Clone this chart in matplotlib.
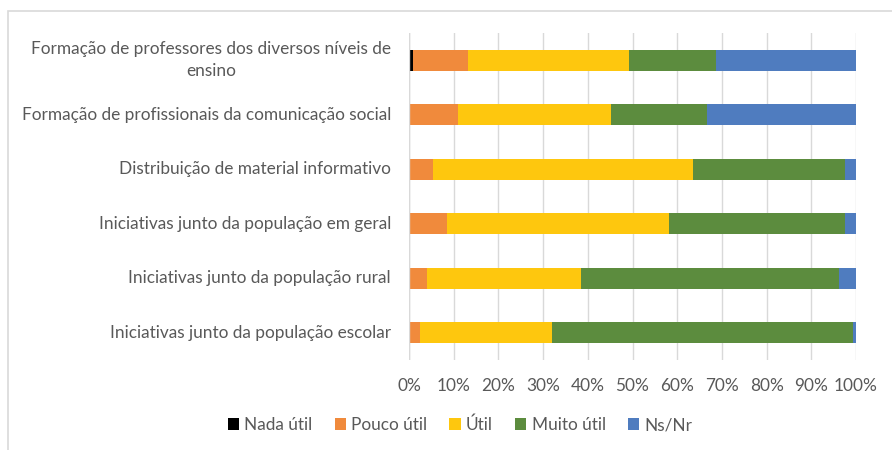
import matplotlib
matplotlib.use("Agg")
import matplotlib.pyplot as plt
import matplotlib.transforms as mtransforms
from matplotlib.patches import Rectangle
from matplotlib.ticker import PercentFormatter
import numpy as np

plt.rcParams['font.family'] = ['Lato', 'DejaVu Sans']

categorias = ["Formação de professores dos diversos níveis de\nensino",
              "Formação de profissionais da comunicação social",
              "Distribuição de material informativo",
              "Iniciativas junto da população em geral",
              "Iniciativas junto da população rural",
              "Iniciativas junto da população escolar"]

series = ["Nada útil", "Pouco útil", "Útil", "Muito útil", "Ns/Nr"]
nada_util = [0.8, 0.0, 0.0, 0.0, 0.0, 0.0]
pouco_util = [12.4, 11.0, 5.3, 8.4, 4.0, 2.5]
util = [36.1, 34.1, 58.3, 49.8, 34.5, 29.6]
muito_util = [19.3, 21.6, 33.9, 39.3, 57.7, 67.3]
ns_nr = [31.4, 33.3, 2.5, 2.5, 3.8, 0.6]

cores = ["#000000", "#F08A3C", "#FEC70E", "#5C8C3E", "#4F7CBF"]

fig = plt.figure(figsize=(8.92, 4.5), dpi=100)
ax = fig.add_axes([409/892, 1-360/450, (856-409)/892, (360-33)/450])

# moldura do gráfico (Excel)
fig.patches.append(Rectangle((8/892, -0.1), 1.2, 1.1 - 11/450, transform=fig.transFigure,
                             fill=False, edgecolor="#D9D9D9", linewidth=1.2))

dados = [nada_util, pouco_util, util, muito_util, ns_nr]
y = np.arange(len(categorias))
esq = np.zeros(len(categorias))
for nome, vals, cor in zip(series, dados, cores):
    v = np.array(vals)
    ax.barh(y, v, left=esq, height=0.39, color=cor, label=nome, zorder=3)
    esq += v

ax.set_xlim(0, 100)
ax.set_ylim(len(categorias) - 0.5, -0.5)
ax.set_xticks(np.arange(0, 101, 10))
ax.xaxis.set_major_formatter(PercentFormatter(decimals=0))
ax.set_yticks(y)
ax.set_yticklabels([])
ax.tick_params(axis="y", length=0)
ax.tick_params(axis="x", length=0, pad=13, labelsize=12.4, labelcolor="#595959")

# rótulos das categorias: cada linha centrada sob a mais longa, como no Excel
trans = mtransforms.offset_copy(ax.get_yaxis_transform(), fig=fig, x=-18, units="dots")
linha_h = 0.41  # em unidades de dados
for yi, cat in zip(y, categorias):
    linhas = cat.split("\n")
    n = len(linhas)
    txts = []
    for k, ln in enumerate(linhas):
        yk = yi + (k - (n - 1) / 2) * linha_h
        txts.append(ax.text(0, yk, ln, transform=trans, ha="right", va="center",
                            fontsize=12.4, color="#595959"))
    if n > 1:
        fig.canvas.draw()
        r = fig.canvas.get_renderer()
        ext = [t.get_window_extent(r) for t in txts]
        largura = max(e.width for e in ext)
        for t, e in zip(txts, ext):
            t.set_transform(mtransforms.offset_copy(trans, fig=fig,
                                                    x=-(largura - e.width) / 2, units="dots"))

ax.grid(axis="x", color="#D9D9D9", linewidth=1, zorder=0)
for s in ax.spines.values():
    s.set_visible(False)
ax.axvline(0, color="#D9D9D9", linewidth=1, zorder=4)

fig.legend(loc="center", bbox_to_anchor=(460/892, 1-425/450), ncol=5, frameon=False,
           fontsize=12.4, labelcolor="#595959", handlelength=0.65, handleheight=0.65,
           handletextpad=0.3, columnspacing=1.3)

fig.savefig("out.png", dpi=100)
